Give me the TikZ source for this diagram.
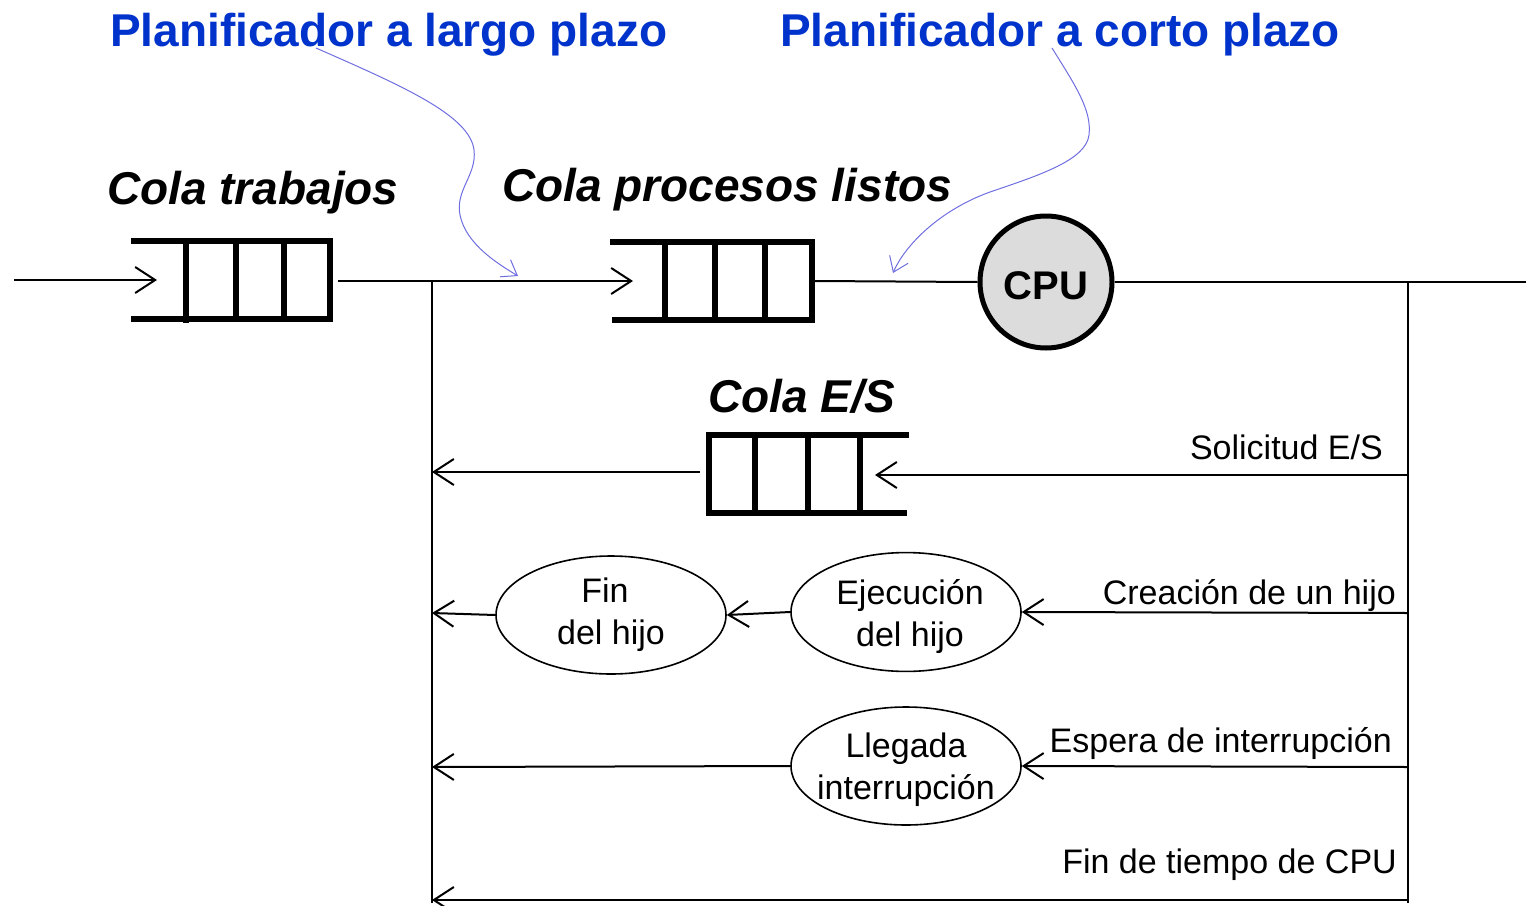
\documentclass[tikz,border=0pt]{standalone}
\usepackage{fontspec}
\setmainfont{Liberation Sans}
\usetikzlibrary{arrows.meta,shapes.geometric}
\definecolor{titleblue}{RGB}{0,51,204}
\definecolor{curveblue}{RGB}{110,110,225}
\definecolor{cpugray}{RGB}{220,220,220}
\newcommand{\cbox}[1]{\makebox[0pt][c]{#1}}
\tikzset{
  conn/.style={line width=2pt,black},
  arr/.style={conn,-{Straight Barb[length=20pt,width=26pt]}},
  qbar/.style={line width=6pt,black},
  qbox/.style={minimum width=200pt,minimum height=78pt,inner sep=0pt},
  state/.style={ellipse,draw,line width=1.6pt,minimum width=230pt,minimum height=118pt,inner sep=0pt,align=center,font=\fontsize{34}{42}\selectfont},
  title/.style={text=titleblue,font=\fontsize{46}{50}\selectfont\bfseries,inner sep=0pt},
  qlabel/.style={font=\fontsize{46}{50}\selectfont\bfseries\itshape,inner sep=0pt},
  elabel/.style={font=\fontsize{34}{40}\selectfont,inner sep=0pt,anchor=base east},
  pointer/.style={curveblue,line width=1pt,-{Straight Barb[length=14pt,width=20pt]}},
}
\begin{document}
\begin{tikzpicture}[x=1pt,y=-1pt]
\useasboundingbox (0,0) rectangle (1526,905);

% titles
\node[title,anchor=base west] (tl) at (110,46) {Planificador a largo plazo};
\node[title,anchor=base west] (tc) at (780,46) {Planificador a corto plazo};

% queue labels
\node[qlabel,anchor=base west] (lq1) at (107,204) {Cola trabajos};
\node[qlabel,anchor=base west] (lq2) at (502,201) {Cola procesos listos};
\node[qlabel,anchor=base west] (lq3) at (708,412) {Cola E/S};

% queue 1
\node[qbox] (q1) at (232,280) {};
\draw[qbar] (131,241) -- (333,241);
\draw[qbar] (131,319) -- (333,319);
\draw[qbar] (330,241) -- (330,319);
\draw[qbar] (186,241) -- (186,323);
\draw[qbar] (236,241) -- (236,319);
\draw[qbar] (284,241) -- (284,319);

% queue 2
\node[qbox] (q2) at (711,281) {};
\draw[qbar] (610,242) -- (815,242);
\draw[qbar] (612,320) -- (815,320);
\draw[qbar] (812,242) -- (812,320);
\draw[qbar] (665,242) -- (665,320);
\draw[qbar] (715,242) -- (715,320);
\draw[qbar] (765,242) -- (765,320);

% queue 3 (E/S)
\node[qbox] (q3) at (807,474) {};
\draw[qbar] (706,435) -- (909,435);
\draw[qbar] (706,513) -- (907,513);
\draw[qbar] (709,435) -- (709,513);
\draw[qbar] (755,435) -- (755,516);
\draw[qbar] (808,435) -- (808,513);
\draw[qbar] (860,435) -- (860,513);

% CPU
\node[circle,draw,line width=5pt,fill=cpugray,minimum size=132pt,inner sep=0pt,font=\fontsize{40}{44}\selectfont\bfseries] (cpu) at (1046,282) {\rule{0pt}{35pt}CPU};

% ellipses
\node[state] (ej) at (906,612) {\rule{0pt}{35pt}\cbox{\hspace*{8pt}Ejecución}\\\cbox{\hspace*{8pt}del hijo}};
\node[state] (fin) at (611,615) {\cbox{\hspace*{-12pt}Fin}\\\cbox{del hijo}};
\node[state] (ll) at (906,766) {\rule{0pt}{32pt}\cbox{Llegada}\\\cbox{interrupción}};

% coordinates
\coordinate (in) at (14,280);
\coordinate (q1in) at (157,280);
\coordinate (q1out) at (338,281);
\coordinate (q2in) at (633,281);
\coordinate (q2out) at (815,281);
\coordinate (jL) at (432,281);
\coordinate (jLb) at (432,903);
\coordinate (jR) at (1408,282);
\coordinate (jRb) at (1408,903);
\coordinate (out) at (1526,282);
\coordinate (r1s) at (1408,475);
\coordinate (q3in) at (875,475);
\coordinate (q3out) at (700,472);
\coordinate (r1e) at (432,472);
\coordinate (r2s) at (1408,613);
\coordinate (r2e) at (432,613);
\coordinate (r3s) at (1408,767);
\coordinate (r3e) at (432,767);
\coordinate (r4s) at (1408,900);
\coordinate (r4e) at (432,900);

% main line
\draw[arr] (in) -- (q1in);
\draw[arr] (q1out) -- (q2in);
\draw[conn] (q2out) -- (cpu.west);
\draw[conn] (cpu.east) -- (out);
\draw[conn] (jL) -- (jLb);
\draw[conn] (jR) -- (jRb);

% row 1
\draw[arr] (r1s) -- (q3in);
\draw[arr] (q3out) -- (r1e);
% row 2
\draw[arr] (r2s) -- (ej.east);
\draw[arr] (ej.west) -- (fin.east);
\draw[arr] (fin.west) -- (r2e);
% row 3
\draw[arr] (r3s) -- (ll.east);
\draw[arr] (ll.west) -- (r3e);
% row 4
\draw[arr] (r4s) -- (r4e);

% edge labels
\node[elabel] (l1) at (1383,459) {Solicitud E/S};
\node[elabel] (l2) at (1396,604) {Creación de un hijo};
\node[elabel] (l3) at (1392,752) {Espera de interrupción};
\node[elabel] (l4) at (1397,873) {Fin de tiempo de CPU};

% scheduler pointers
\coordinate (p1s) at (316,48);
\coordinate (p1e) at (518,276);
\coordinate (p2s) at (1052,48);
\coordinate (p2e) at (893,273);
\draw[pointer] (p1s) .. controls (400,85) and (470,115) .. (474,150)
  .. controls (477,175) and (455,190) .. (460,215)
  .. controls (466,245) and (500,265) .. (p1e);
\draw[pointer] (p2s) .. controls (1075,85) and (1092,110) .. (1089,135)
  .. controls (1086,160) and (1040,175) .. (990,192)
  .. controls (940,210) and (905,245) .. (p2e);
\end{tikzpicture}
\end{document}
